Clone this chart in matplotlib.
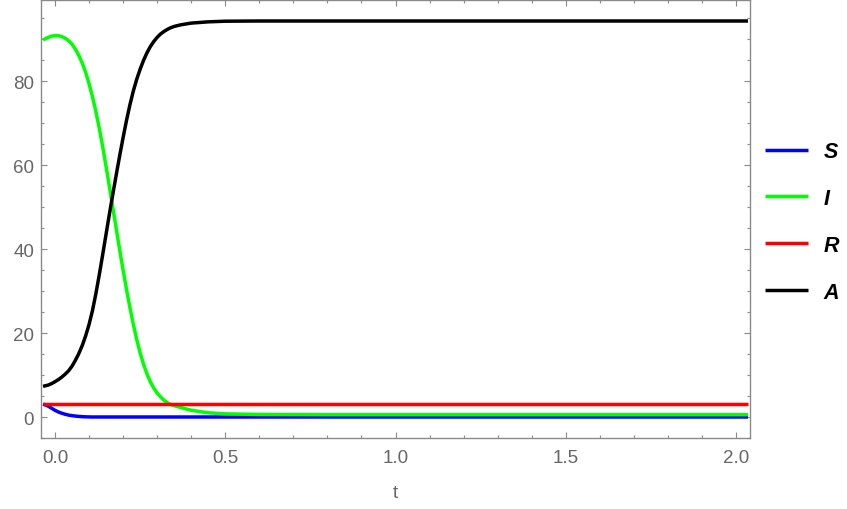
import matplotlib
matplotlib.use("Agg")
import matplotlib.pyplot as plt
from matplotlib.ticker import MultipleLocator

# values
t = [-0.035, -0.02, -0.01, 0.0, 0.01, 0.02, 0.03, 0.04, 0.05, 0.06, 0.07,
     0.08, 0.09, 0.10, 0.11, 0.12, 0.13, 0.14, 0.15, 0.16, 0.17, 0.18,
     0.19, 0.20, 0.21, 0.22, 0.23, 0.24, 0.25, 0.26, 0.27, 0.28, 0.29,
     0.30, 0.31, 0.32, 0.33, 0.34, 0.35, 0.37, 0.40, 0.45, 0.50, 0.60,
     0.80, 1.00, 1.50, 2.035]

S = [3.1, 2.6, 2.1, 1.6, 1.2, 0.9, 0.65, 0.45, 0.32, 0.22, 0.14,
     0.08, 0.04, 0.02, 0.0, 0.0, 0.0, 0.0, 0.0, 0.0, 0.0, 0.0,
     0.0, 0.0, 0.0, 0.0, 0.0, 0.0, 0.0, 0.0, 0.0, 0.0, 0.0,
     0.0, 0.0, 0.0, 0.0, 0.0, 0.0, 0.0, 0.0, 0.0, 0.0, 0.0,
     0.0, 0.0, 0.0, 0.0]

I = [89.8, 90.4, 90.7, 90.8, 90.8, 90.6, 90.2, 89.6, 88.8, 87.6, 86.1,
     84.3, 82.1, 79.4, 76.3, 72.8, 68.8, 64.4, 59.7, 54.8, 49.8, 44.8,
     39.8, 35.0, 30.4, 26.1, 22.1, 18.5, 15.3, 12.6, 10.3, 8.4, 6.9,
     5.7, 4.8, 4.0, 3.4, 3.0, 2.7, 2.25, 1.6, 1.0, 0.75, 0.6,
     0.55, 0.55, 0.55, 0.55]

R = [3.1] * len(t)

A = [7.3, 7.6, 7.95, 8.4, 8.9, 9.5, 10.2, 11.0, 12.1, 13.5, 15.1,
     17.0, 19.3, 22.0, 25.3, 29.3, 33.8, 38.6, 43.5, 48.4, 53.1, 57.7,
     62.2, 66.5, 70.6, 74.3, 77.6, 80.4, 82.8, 84.9, 86.7, 88.2, 89.4,
     90.4, 91.2, 91.8, 92.3, 92.7, 93.0, 93.4, 93.8, 94.1, 94.25, 94.3,
     94.3, 94.3, 94.3, 94.3]

series = [("S", S, (0, 0, 1)), ("I", I, (0, 1, 0)),
          ("R", R, (1, 0, 0)), ("A", A, (0, 0, 0))]

plt.rcParams["font.family"] = ["Liberation Sans", "DejaVu Sans"]

fig = plt.figure(figsize=(8.47, 5.10), dpi=100)
ax = fig.add_axes([41 / 847, 71 / 510, 709 / 847, 438 / 510])

for name, vals, col in series:
    ax.plot(t, vals, color=col, lw=2.5, label=name, solid_capstyle="butt")

ax.set_xlim(-0.041, 2.041)
ax.set_ylim(-5.0, 99.3)

ax.xaxis.set_major_locator(MultipleLocator(0.5))
ax.xaxis.set_minor_locator(MultipleLocator(0.1))
ax.yaxis.set_major_locator(MultipleLocator(20))
ax.yaxis.set_minor_locator(MultipleLocator(5))
ax.xaxis.set_major_formatter(plt.FuncFormatter(lambda v, p: f"{v:.1f}"))

gray = "#8a8a8a"
for sp in ax.spines.values():
    sp.set_color(gray)
    sp.set_linewidth(1.0)
ax.tick_params(which="both", direction="in", top=True, right=True,
               color=gray, width=0.8, labelcolor="#666666", labelsize=13.5)
ax.tick_params(which="major", length=4.5)
ax.tick_params(which="minor", length=2.3)
ax.tick_params(axis="x", which="major", pad=8)
ax.tick_params(axis="y", which="major", pad=5)

ax.set_xlabel("t", fontsize=13.5, color="#666666", labelpad=13)

ax.legend(loc="center left", bbox_to_anchor=(1.021, 0.4935), frameon=False,
          borderpad=0, borderaxespad=0, handlelength=2.0, handletextpad=0.72,
          labelspacing=1.2, prop={"size": 15.5, "weight": "bold", "style": "italic"})

fig.savefig("out.png", dpi=100)
